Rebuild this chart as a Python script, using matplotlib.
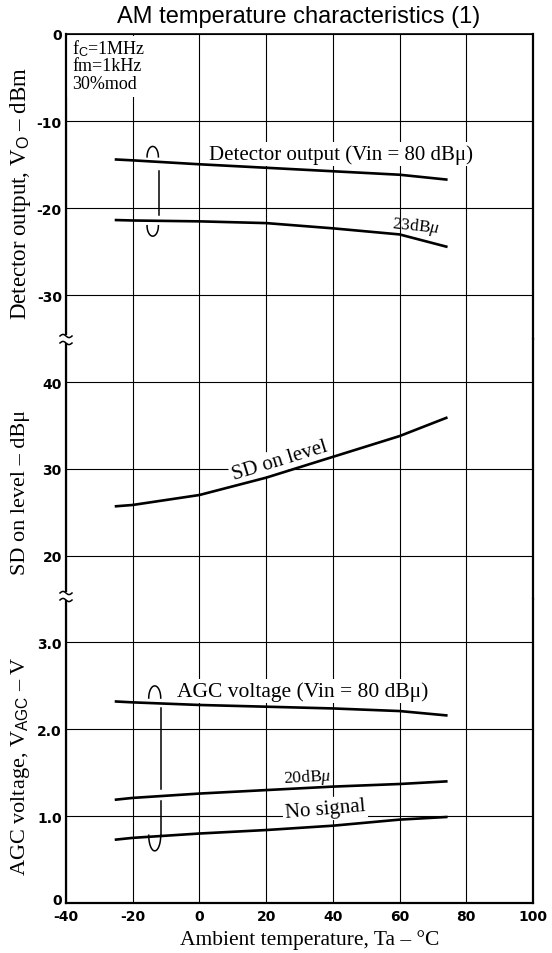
import numpy as np
import matplotlib
matplotlib.use("Agg")
import matplotlib.pyplot as plt
import matplotlib.transforms as mtransforms
from matplotlib.lines import Line2D
from matplotlib.patches import Rectangle

# ---------------- data ----------------
temps = [-25, -20, 0, 20, 40, 60, 74]
det_80dbu = [-14.4, -14.5, -14.95, -15.35, -15.75, -16.15, -16.7]
det_23dbu = [-21.35, -21.4, -21.5, -21.7, -22.3, -23.0, -24.4]
sd_on_level = [25.7, 25.85, 27.0, 29.0, 31.4, 33.8, 35.9]
agc_80dbu = [2.32, 2.31, 2.28, 2.26, 2.24, 2.21, 2.16]
agc_20dbu = [1.19, 1.21, 1.26, 1.30, 1.34, 1.37, 1.40]
agc_nosig = [0.73, 0.75, 0.80, 0.84, 0.89, 0.96, 0.99]

x_ticks = [-40, -20, 0, 20, 40, 60, 80, 100]
x_ticklabels = ["-40", "-20", "0", "20", "40", "60", "80", "100"]
top_ticks = [0, -10, -20, -30]
top_ticklabels = ["0", "-10", "-20", "-30"]
mid_ticks = [40, 30, 20]
mid_ticklabels = ["40", "30", "20"]
bot_ticks = [0, 1, 2, 3]
bot_ticklabels = ["0", "1.0", "2.0", "3.0"]

# ---------------- style ----------------
plt.rcParams["axes.unicode_minus"] = False
plt.rcParams["mathtext.fontset"] = "custom"
plt.rcParams["mathtext.rm"] = "Liberation Serif"
plt.rcParams["mathtext.it"] = "Liberation Serif:italic"
plt.rcParams["mathtext.sf"] = "Liberation Sans"
SERIF = "Liberation Serif"
TICKFONT = dict(family="DejaVu Sans", weight="bold", size=10)

W, H = 552, 954
fig = plt.figure(figsize=(W / 100, H / 100), dpi=100)


def fx(px):
    return px / W


def fy(py):
    return 1 - py / H


L, R = 66, 533
panels = [  # (top px, bottom px)
    (35, 340),
    (340, 600),
    (600, 904),
]
axes = []
for (t, b) in panels:
    ax = fig.add_axes([fx(L), fy(b), fx(R) - fx(L), (b - t) / H])
    axes.append(ax)
ax_top, ax_mid, ax_bot = axes

ax_top.set_ylim(-35, 0)
ax_mid.set_ylim(15, 45)
ax_bot.set_ylim(0, 3.5)

for ax in axes:
    ax.set_xlim(-40, 100)
    ax.set_xticks(x_ticks)
    ax.set_axisbelow(True)
    ax.grid(True, color="black", linewidth=0.8)
    ax.tick_params(length=0, pad=3)
    for s in ax.spines.values():
        s.set_linewidth(1.6)
        s.set_color("black")

ax_top.spines["bottom"].set_visible(False)
ax_mid.spines["top"].set_visible(False)
ax_mid.spines["bottom"].set_visible(False)
ax_bot.spines["top"].set_visible(False)
ax_top.spines["top"].set_linewidth(1.2)

for ax in (ax_top, ax_mid):
    ax.tick_params(labelbottom=False)
ax_bot.tick_params(axis="x", pad=4)
ax_bot.set_xticklabels(x_ticklabels, fontdict=TICKFONT)

ax_top.set_yticks(top_ticks)
ax_top.set_yticklabels(top_ticklabels, fontdict=TICKFONT)
ax_mid.set_yticks(mid_ticks)
ax_mid.set_yticklabels(mid_ticklabels, fontdict=TICKFONT)
ax_bot.set_yticks(bot_ticks)
ax_bot.set_yticklabels(bot_ticklabels, fontdict=TICKFONT)
# lift the bottom "0" a little, as in the reference
lbl0 = ax_bot.get_yticklabels()[0]
lbl0.set_transform(lbl0.get_transform() +
                   mtransforms.ScaledTranslation(0, 4 / 100, fig.dpi_scale_trans))

# ---------------- curves ----------------
LW = 1.9
ax_top.plot(temps, det_80dbu, color="black", lw=LW, zorder=4)
ax_top.plot(temps, det_23dbu, color="black", lw=LW, zorder=4)
ax_mid.plot(temps, sd_on_level, color="black", lw=LW, zorder=4)
ax_bot.plot(temps, agc_80dbu, color="black", lw=LW, zorder=4)
ax_bot.plot(temps, agc_20dbu, color="black", lw=LW, zorder=4)
ax_bot.plot(temps, agc_nosig, color="black", lw=LW, zorder=4)

# ---------------- curve labels ----------------
box = dict(facecolor="white", edgecolor="none", pad=1.5)
ax_top.text(42.4, -13.8, "Detector output (Vin = 80 dB\u03bc)", family=SERIF,
            fontsize=15, ha="center", va="center", bbox=box, zorder=3)
ax_top.text(65, -22.0, "23dB$\\mathit{\u03bc}$", family=SERIF, fontsize=12.5,
            ha="center", va="center", rotation=-6, zorder=3)
ax_mid.text(24, 31.0, "SD on level", family=SERIF, fontsize=15,
            ha="center", va="center", rotation=17, bbox=box, zorder=3)
ax_bot.text(31, 2.44, "AGC voltage (Vin = 80 dB\u03bc)", family=SERIF,
            fontsize=15.5, ha="center", va="center", bbox=box, zorder=3)
ax_bot.text(32.5, 1.45, "20dB$\\mathit{\u03bc}$", family=SERIF, fontsize=12.5,
            ha="center", va="center", rotation=3, zorder=3)
ax_bot.text(37.6, 1.08, "No signal", family=SERIF, fontsize=15,
            ha="center", va="center", rotation=5, bbox=box, zorder=3)

# condition text (top-left)
ax_top.add_patch(Rectangle((0.003, 0.795), 0.19, 0.2, transform=ax_top.transAxes,
                           facecolor="white", edgecolor="none", zorder=1))
cond = ["f$_\\mathsf{C}$=1MHz", "fm=1kHz", "30%mod"]
for i, s in enumerate(cond):
    ax_top.text(0.013, 0.955 - i * 0.058, s, transform=ax_top.transAxes,
                family=SERIF, fontsize=13, ha="left", va="center", zorder=3)

# ---------------- brackets ----------------
def bracket(ax, cx, hw, top_peak, top_leg, line_x, line_segs, bot_low, bot_leg):
    t = np.linspace(np.pi, 0, 20)
    h = (top_peak - top_leg)
    ax.plot(cx + hw * np.cos(t), top_leg + h * np.sin(t), color="black", lw=1.1, zorder=5)
    for y0, y1 in line_segs:
        ax.plot([line_x, line_x], [y0, y1], color="black", lw=1.1, zorder=5)
    t2 = np.linspace(np.pi, 2 * np.pi, 20)
    hb = (bot_leg - bot_low)
    ax.plot(cx + hw * np.cos(t2), bot_leg + hb * np.sin(t2), color="black", lw=1.1, zorder=5)


bracket(ax_top, -14.0, 1.7, -12.9, -14.1, -12.2, [(-15.7, -20.8)], -23.2, -22.0)
bracket(ax_bot, -13.4, 1.8, 2.50, 2.36, -11.5, [(2.24, 1.31), (1.18, 0.77)], 0.60, 0.78)

# ---------------- axis labels & title ----------------
fig.text(fx(21), fy(193), "Detector output, V$_\\mathsf{O}$ \u2013 dBm", family=SERIF,
         fontsize=16.5, rotation=90, ha="center", va="center")
fig.text(fx(21), fy(492), "SD on level \u2013 dB\u03bc", family=SERIF,
         fontsize=16, rotation=90, ha="center", va="center")
fig.text(fx(21), fy(766), "AGC voltage, V$_\\mathsf{AGC}$ \u2013 V", family=SERIF,
         fontsize=16, rotation=90, ha="center", va="center")
fig.text(fx(310), fy(940), "Ambient temperature, Ta \u2013 \u00b0C", family=SERIF,
         fontsize=15.5, ha="center", va="center")
fig.text(fx(299), fy(17), "AM temperature characteristics (1)", family="Liberation Sans",
         fontsize=17, ha="center", va="center")

# ---------------- axis breaks on left spine ----------------
for yb in (340, 597):
    fig.add_artist(Rectangle((fx(61), fy(yb + 4)), fx(10), 8 / H, transform=fig.transFigure,
                             facecolor="white", edgecolor="none", zorder=10))
    xs = np.linspace(60, 72, 20)
    for off in (-3, 4):
        ys = yb + off - 1.6 * np.sin(2 * np.pi * (xs - 60) / 12)
        fig.add_artist(Line2D(fx(xs), fy(ys), transform=fig.transFigure,
                              color="black", lw=1.1, zorder=11))

fig.savefig("out.png", dpi=100)
